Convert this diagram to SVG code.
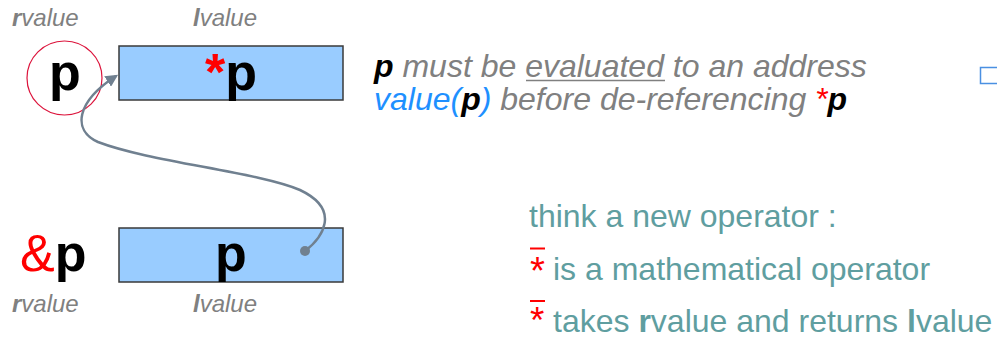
<svg xmlns="http://www.w3.org/2000/svg" width="997" height="340" viewBox="0 0 997 340">
<style>
text{font-family:"Liberation Sans",Arial,sans-serif}
.lab{font-size:24px;font-style:italic;fill:#808080}
.big{font-size:52px;font-weight:bold;fill:#000}
.box{fill:#99ccff;stroke:#3a3a3a;stroke-width:1.5}
.note{font-size:32px;font-style:italic;fill:#808080}
.teal{font-size:32px;fill:#5f9ea0}
.red{fill:#ff0000}
.ast{fill:#ff0000;font-size:32px}
.conn{fill:none;stroke:#708090;stroke-width:2.5}
</style>
<defs>
<marker id="ah" viewBox="0 0 10 10" refX="8" refY="5" markerWidth="5" markerHeight="5" orient="auto" markerUnits="strokeWidth">
<path d="M0,0 L10,5 L0,10 z" fill="#708090"/>
</marker>
</defs>
<g id="labels-top">
<text class="lab" x="12" y="26"><tspan font-weight="bold">r</tspan>value</text>
<text class="lab" x="193" y="26"><tspan font-weight="bold">l</tspan>value</text>
</g>
<g id="node-p-rvalue">
<ellipse cx="64.5" cy="78" rx="37.5" ry="37" fill="none" stroke="#dc143c" stroke-width="1.2"/>
<text class="big" x="65" y="90" text-anchor="middle">p</text>
</g>
<g id="node-deref">
<rect class="box" x="119" y="46" width="224" height="54"/>
<text class="big" x="231" y="90" text-anchor="middle"><tspan class="red">*</tspan>p</text>
</g>
<g id="node-addr">
<text class="big" x="20" y="271"><tspan class="red" font-weight="normal">&amp;</tspan>p</text>
</g>
<g id="node-p">
<rect class="box" x="119" y="228" width="224" height="54"/>
<text class="big" x="231" y="271" text-anchor="middle">p</text>
</g>
<g id="labels-bottom">
<text class="lab" x="12" y="312"><tspan font-weight="bold">r</tspan>value</text>
<text class="lab" x="193" y="312"><tspan font-weight="bold">l</tspan>value</text>
</g>
<g id="connectors">
<path class="conn" d="M305,251 C322,238 342,210 300,190 C258,172 150,162 98,142 C72,130 76,102 116,76" marker-end="url(#ah)"/>
<circle cx="305" cy="251" r="5" fill="#708090"/>
</g>
<g id="note">
<text class="note" x="374" y="77"><tspan fill="#000" font-weight="bold">p</tspan> must be evaluated to an address</text>
<line x1="526" y1="80.5" x2="665" y2="80.5" stroke="#808080" stroke-width="1.5"/>
<text class="note" x="374" y="110"><tspan fill="#1e90ff">value(</tspan><tspan fill="#000" font-weight="bold">p</tspan><tspan fill="#1e90ff">)</tspan> before de-referencing <tspan class="red">*</tspan><tspan fill="#000" font-weight="bold">p</tspan></text>
</g>
<g id="operator-text">
<text class="teal" x="529" y="227">think a new operator :</text>
<line x1="530" y1="248.5" x2="545" y2="248.5" stroke="#ff0000" stroke-width="2"/>
<text class="ast" x="530" y="284" transform="translate(530 284) scale(1.2) translate(-530 -284)">*</text>
<text class="teal" x="553" y="280">is a mathematical operator</text>
<line x1="530" y1="301" x2="545" y2="301" stroke="#ff0000" stroke-width="2"/>
<text class="ast" x="530" y="333" transform="translate(530 333) scale(1.15) translate(-530 -333)">*</text>
<text class="teal" x="553" y="332">takes <tspan font-weight="bold">r</tspan>value and returns <tspan font-weight="bold">l</tspan>value</text>
</g>
<g id="corner-box">
<rect x="980.5" y="67.5" width="30" height="16" fill="none" stroke="#4a90e2" stroke-width="1.5"/>
</g>
</svg>
